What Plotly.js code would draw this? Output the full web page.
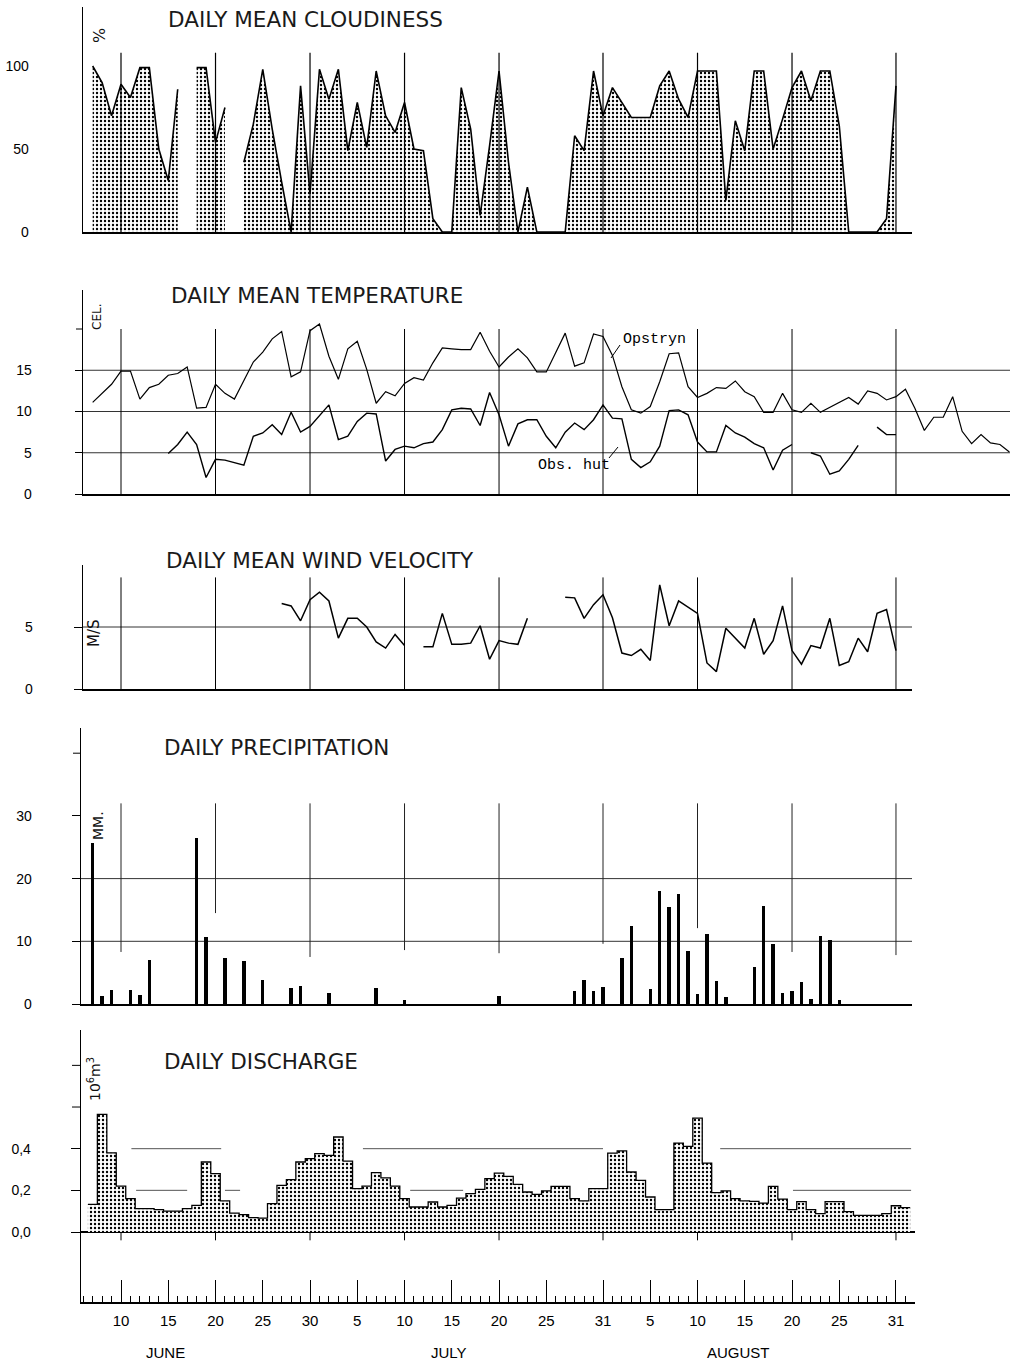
<!DOCTYPE html>
<html><head><meta charset="utf-8">
<script src="https://cdn.plot.ly/plotly-3.0.1.min.js"></script>
<style>html,body{margin:0;padding:0;background:#fff}#chart{width:1014px;height:1364px}</style>
</head><body><div id="chart"></div>
<script>
// ---------------- DATA ----------------
// day numbers: 1 = 1 June, 31 = 1 July, 62 = 1 August (92 = 31 August)
const cloudStart = 7;
const cloudiness = [100, 90, 70, 89, 81, 99, 99, 50, 31, 86,
  null, 99, 99, 54, 75, null,
  42, 65, 98, 62, 30, 0, 88, 23, 98, 80,
  98, 49, 78, 51, 97, 70, 60, 78, 50, 49,
  8, 0, 0, 87, 62, 10, 52, 97, 42, 0,
  27, 0, 0, 0, 0, 58, 49, 97, 70, 87,
  78, 69, 69, 69, 88, 97, 80, 69, 97, 97,
  97, 19, 67, 49, 97, 97, 50, 68, 87, 97,
  79, 97, 97, 64, 0, 0, 0, 0, 8, 88];

const opstrynStart = 7;
const tempOpstryn = [11.1, 12.2, 13.3, 14.9, 14.9, 11.5, 12.9, 13.3, 14.4, 14.6,
  15.4, 10.4, 10.5, 13.3, 12.2, 11.5, 13.8, 16.0, 17.2, 18.8,
  19.7, 14.2, 14.8, 19.8, 20.6, 16.7, 13.9, 17.6, 18.5, 15.1,
  11.0, 12.4, 11.9, 13.4, 14.1, 13.8, 15.9, 17.7, 17.6, 17.5,
  17.5, 19.6, 17.3, 15.4, 16.6, 17.6, 16.5, 14.8, 14.8, 17.2,
  19.5, 15.5, 15.9, 19.4, 19.1, 16.8, 13.0, 10.2, 9.8, 10.6,
  13.6, 17.0, 17.1, 13.0, 11.7, 12.2, 12.9, 12.8, 13.7, 12.4,
  11.8, 9.9, 9.9, 12.2, 10.2, 9.9, 11.0, 9.9, 10.5, 11.0,
  11.7, 10.9, 12.5, 12.2, 11.4, 11.8, 12.7, 10.4, 7.7, 9.3,
  9.3, 11.8, 7.6, 6.1, 7.2, 6.2, 6.0, 5.1];

const obsHutStart = 15;
const tempObsHut = [4.9, 6.0, 7.5, 6.0, 2.0, 4.2, 4.1, 3.8, 3.5, 7.0,
  7.4, 8.4, 7.2, 9.9, 7.5, 8.2, 9.5, 10.8, 6.6, 7.0,
  8.8, 9.8, 9.7, 4.0, 5.4, 5.8, 5.6, 6.1, 6.3, 7.8,
  10.2, 10.4, 10.3, 8.3, 12.3, 9.6, 5.8, 8.5, 9.0, 9.0,
  7.0, 5.6, 7.5, 8.6, 7.8, 9.0, 10.8, 9.2, 9.1, 4.2,
  3.2, 3.9, 5.8, 10.1, 10.2, 9.6, 6.3, 5.1, 5.1, 8.3,
  7.4, 6.9, 6.1, 5.6, 2.9, 5.3, 6.0, null, 5.0, 4.6,
  2.4, 2.8, 4.2, 5.9, null, 8.1, 7.2, 7.2];

const windStart = 27;
const windVelocity = [6.9, 6.7, 5.5, 7.2, 7.8, 7.1, 4.1, 5.7, 5.7, 5.0,
  3.8, 3.3, 4.4, 3.5, null, 3.4, 3.4, 6.1, 3.6, 3.6,
  3.7, 5.1, 2.4, 3.9, 3.7, 3.6, 5.7, null, null, null,
  7.4, 7.35, 5.7, 6.8, 7.6, 5.75, 2.9, 2.7, 3.2, 2.3,
  8.4, 5.1, 7.1, 6.6, 6.1, 2.1, 1.4, 4.9, 4.1, 3.3,
  5.7, 2.8, 3.9, 6.7, 3.1, 2.0, 3.5, 3.3, 5.7, 1.9,
  2.2, 4.1, 3.0, 6.1, 6.4, 3.1];

const precipDays = [7, 8, 9, 11, 12, 13, 18, 19, 21, 23, 25, 28, 29, 32, 37, 40, 50,
  58, 59, 60, 61, 63, 64, 66, 67, 68, 69, 70, 71, 72, 73, 74,
  77, 78, 79, 80, 81, 82, 83, 84, 85, 86];
const precipMM = [25.7, 1.3, 2.3, 2.2, 1.4, 7.0, 26.4, 10.7, 7.4, 6.9, 3.9, 2.5, 2.9, 1.7, 2.5, 0.7, 1.2,
  2.1, 3.9, 2.1, 2.7, 7.4, 12.5, 2.4, 18.1, 15.5, 17.5, 8.4, 1.6, 11.2, 3.6, 1.1,
  5.9, 15.6, 9.6, 1.8, 2.1, 3.5, 0.8, 10.9, 10.2, 0.7];

const dischargeStart = 7;
const discharge = [0.133, 0.565, 0.38, 0.22, 0.16, 0.112, 0.112, 0.107, 0.10, 0.10,
  0.112, 0.128, 0.336, 0.28, 0.149, 0.091, 0.083, 0.069, 0.067, 0.136,
  0.224, 0.251, 0.336, 0.352, 0.376, 0.368, 0.456, 0.34, 0.208, 0.22,
  0.285, 0.26, 0.22, 0.16, 0.12, 0.12, 0.144, 0.12, 0.128, 0.163,
  0.184, 0.205, 0.256, 0.283, 0.267, 0.229, 0.192, 0.181, 0.197, 0.219,
  0.219, 0.16, 0.149, 0.208, 0.208, 0.379, 0.389, 0.288, 0.248, 0.168,
  0.107, 0.107, 0.427, 0.411, 0.547, 0.331, 0.189, 0.197, 0.16, 0.149,
  0.147, 0.139, 0.219, 0.158, 0.107, 0.146, 0.107, 0.088, 0.146, 0.146,
  0.098, 0.08, 0.08, 0.08, 0.088, 0.126, 0.117];

const gridDays = [10, 20, 30, 40, 50, 61, 71, 81, 92];
const axisTickDays = [10, 15, 20, 25, 30, 35, 40, 45, 50, 55, 61, 66, 71, 76, 81, 86, 92];
const axisTickLabels = ['10', '15', '20', '25', '30', '5', '10', '15', '20', '25', '31', '5', '10', '15', '20', '25', '31'];
const monthNames = ['JUNE', 'JULY', 'AUGUST'];
const panelTitles = ['DAILY MEAN CLOUDINESS', 'DAILY MEAN TEMPERATURE', 'DAILY MEAN WIND VELOCITY', 'DAILY PRECIPITATION', 'DAILY DISCHARGE'];
const unitLabels = ['%', 'CEL.', 'M/S', 'MM.', '10<sup>6</sup>m<sup>3</sup>'];
const seriesNames = ['Opstryn', 'Obs. hut'];

// ---------------- LAYOUT HELPERS ----------------
const W = 1014, H = 1364, PXD = 9.451;
const dayAt = px => 10 + (px - 121) / PXD;
const px2x = px => px / W;
const py2y = py => 1 - py / H;
const xDom = (a, b) => [px2x(a), px2x(b)];
const yDom = (top, bottom) => [py2y(bottom), py2y(top)];
const yRng = (top, bottom, zeroPx, ppu) => [(zeroPx - bottom) / ppu, (zeroPx - top) / ppu];

function segments(start, vals) {
  const segs = []; let cur = null;
  vals.forEach((v, i) => {
    if (v === null) { cur = null; return; }
    if (!cur) { cur = {x: [], y: []}; segs.push(cur); }
    cur.x.push(start + i); cur.y.push(v);
  });
  return segs;
}
const dayList = (start, n) => Array.from({length: n}, (_, i) => start + i);

const dots = {shape: '.', fgcolor: '#000', bgcolor: '#fff', size: 4, solidity: 0.27};
const traces = [];

// cloudiness: one filled trace per continuous run
segments(cloudStart, cloudiness).forEach(s => traces.push({
  type: 'scatter', mode: 'lines', x: s.x, y: s.y, xaxis: 'x', yaxis: 'y',
  line: {color: '#000', width: 1.6}, fill: 'tozeroy', fillcolor: '#fff', fillpattern: dots, hoverinfo: 'skip'
}));

// temperatures
traces.push({type: 'scatter', mode: 'lines', name: seriesNames[0], x: dayList(opstrynStart, tempOpstryn.length), y: tempOpstryn,
  xaxis: 'x2', yaxis: 'y2', line: {color: '#000', width: 1.2}, connectgaps: false});
traces.push({type: 'scatter', mode: 'lines', name: seriesNames[1], x: dayList(obsHutStart, tempObsHut.length), y: tempObsHut,
  xaxis: 'x2', yaxis: 'y2', line: {color: '#000', width: 1.4}, connectgaps: false});

// wind
traces.push({type: 'scatter', mode: 'lines', x: dayList(windStart, windVelocity.length), y: windVelocity,
  xaxis: 'x3', yaxis: 'y3', line: {color: '#000', width: 1.5}, connectgaps: false});

// precipitation
traces.push({type: 'bar', x: precipDays, y: precipMM, width: 0.36, xaxis: 'x4', yaxis: 'y4',
  marker: {color: '#000', line: {width: 0}}});

// discharge as daily steps
const qx = discharge.map((v, i) => dischargeStart + i - 0.5);
qx.push(dischargeStart + discharge.length - 0.5);
const qy = discharge.slice(); qy.push(discharge[discharge.length - 1]);
traces.push({type: 'scatter', mode: 'lines', x: qx, y: qy, xaxis: 'x5', yaxis: 'y5',
  line: {color: '#000', width: 1.3, shape: 'hv'}, fill: 'tozeroy', fillcolor: '#fff', fillpattern: dots});

// ---------------- AXES ----------------
const tickFont = {family: 'Liberation Sans, Arial, sans-serif', size: 14, color: '#000'};
function xAx(a, b, anchor) {
  return {domain: xDom(a, b), range: [dayAt(a), dayAt(b)], anchor: anchor, showline: true, linecolor: '#000', linewidth: 1.5,
    showgrid: false, zeroline: false, ticks: '', showticklabels: false, fixedrange: true};
}
function yAx(top, bottom, zeroPx, ppu, anchor, vals, len, standoff) {
  return {domain: yDom(top, bottom), range: yRng(top, bottom, zeroPx, ppu), anchor: anchor, showline: true, linecolor: '#000', linewidth: 1.3,
    showgrid: false, zeroline: false, tickmode: 'array', tickvals: vals,
    ticks: len ? 'outside' : '', ticklen: len, tickwidth: 1, tickcolor: '#000', tickfont: tickFont, ticklabelstandoff: standoff, fixedrange: true};
}

const layout = {
  width: W, height: H, margin: {l: 0, r: 0, t: 0, b: 0}, paper_bgcolor: '#fff', plot_bgcolor: 'rgba(0,0,0,0)',
  showlegend: false, hovermode: false, bargap: 0,
  xaxis: xAx(83, 912, 'y'),
  yaxis: yAx(7, 232, 232, 1.66, 'x', [0, 50, 100], 0, 50),
  xaxis2: xAx(83, 1010, 'y2'),
  yaxis2: yAx(290, 494, 494, 8.25, 'x2', [0, 5, 10, 15], 7, 40),
  xaxis3: xAx(83, 912, 'y3'),
  yaxis3: yAx(565, 689, 689, 12.4, 'x3', [0, 5], 8, 38),
  xaxis4: xAx(81, 912, 'y4'),
  yaxis4: yAx(728, 1004, 1004, 6.27, 'x4', [0, 10, 20, 30], 8, 37),
  xaxis5: Object.assign(xAx(81, 915, 'y5'), {
    showticklabels: true, tickmode: 'array', tickvals: axisTickDays, ticktext: axisTickLabels,
    ticks: 'inside', ticklen: 22, tickwidth: 1, tickcolor: '#000', tickfont: {family: 'Liberation Sans, Arial, sans-serif', size: 15, color: '#000'},
    ticklabelstandoff: 4,
    minor: {tickmode: 'array', tickvals: dayList(6, 88), ticks: 'inside', ticklen: 6, tickwidth: 1, tickcolor: '#000', showgrid: false}
  }),
  yaxis5: Object.assign(yAx(1030, 1302, 1232, 208.3, 'x5', [0, 0.2, 0.4], 9, 37), {
    ticktext: ['0,0', '0,2', '0,4'], zeroline: true, zerolinecolor: '#000', zerolinewidth: 1.5
  }),
  shapes: [], annotations: []
};

// ---------------- GRID LINES & EXTRA TICKS ----------------
const sh = layout.shapes;
const vline = (xr, yr, x, y0, y1, opts) => sh.push(Object.assign({type: 'line', xref: xr, yref: yr, x0: x, x1: x, y0: y0, y1: y1,
  line: {color: '#000', width: 1}, layer: 'below'}, opts || {}));
const hline = (xr, yr, y, x0, x1, opts) => sh.push(Object.assign({type: 'line', xref: xr, yref: yr, x0: x0, x1: x1, y0: y, y1: y,
  line: {color: '#333', width: 1}, layer: 'below'}, opts || {}));

gridDays.forEach(d => vline('x', 'y', d, 0, 108, {layer: 'above', line: {color: '#000', width: 1.2}}));
gridDays.forEach(d => vline('x2', 'y2', d, 0, 20));
[5, 10, 15].forEach(v => hline('x2 domain', 'y2', v, 0, 1));
gridDays.forEach(d => vline('x3', 'y3', d, 0, 9));
hline('x3 domain', 'y3', 5, 0, 1);
const precipGridFrom = [8.3, 14.5, 7.5, 8.6, 8.1, 9.6, 12.1, 8.3, 7.8];
gridDays.forEach((d, i) => vline('x4', 'y4', d, precipGridFrom[i], 32, {line: {color: '#222', width: 1}}));
vline('x4', 'y4', dayAt(918), 14, 32, {line: {color: '#aaa', width: 1}});
[10, 20].forEach(v => hline('x4 domain', 'y4', v, 0, 1));
gridDays.forEach(d => vline('x5', 'y5', d, 0, -0.04, {layer: 'above'}));
[[11.1, 20.6], [35.6, 61.0], [73.4, 93.6]].forEach(s => hline('x5', 'y5', 0.4, s[0], s[1], {line: {color: '#555', width: 1}}));
[[11.6, 17.0], [21.0, 22.6], [40.6, 46.2], [81.1, 93.6]].forEach(s => hline('x5', 'y5', 0.2, s[0], s[1], {line: {color: '#555', width: 1}}));
// unlabelled upper ticks on the value axes
const ytick = (yr, v, a, b) => sh.push({type: 'line', xref: 'paper', yref: yr, x0: px2x(a), x1: px2x(b), y0: v, y1: v, line: {color: '#000', width: 1}});
ytick('y2', 20, 76, 83);
ytick('y4', 40, 73, 81);
ytick('y5', 0.6, 72, 81);
ytick('y5', 0.8, 72, 81);

// leader lines for the temperature series labels
sh.push({type: 'line', xref: 'paper', yref: 'paper', x0: px2x(611), y0: py2y(358), x1: px2x(620), y1: py2y(345), line: {color: '#000', width: 1}});
sh.push({type: 'line', xref: 'paper', yref: 'paper', x0: px2x(609), y0: py2y(458), x1: px2x(618), y1: py2y(447), line: {color: '#000', width: 1}});

// ---------------- TEXT ----------------
const an = layout.annotations;
const titleFont = {family: 'DejaVu Sans, sans-serif', size: 21.5, color: '#1a1a1a'};
const titlePos = [[166, 20], [169, 295], [164, 560], [162, 748], [162, 1061]];
panelTitles.forEach((t, i) => an.push({text: t, xref: 'paper', yref: 'paper', x: px2x(titlePos[i][0]), y: py2y(titlePos[i][1]),
  xanchor: 'left', yanchor: 'middle', showarrow: false, font: titleFont}));
const unitPos = [[100, 36, 16], [97, 317, 12], [94, 633, 15], [98, 826, 14], [94, 1079, 14]];
unitLabels.forEach((t, i) => an.push({text: t, xref: 'paper', yref: 'paper', x: px2x(unitPos[i][0]), y: py2y(unitPos[i][1]),
  xanchor: 'center', yanchor: 'middle', textangle: -90, showarrow: false,
  font: {family: 'DejaVu Sans, sans-serif', size: unitPos[i][2], color: '#111'}}));
const serFont = {family: 'Liberation Mono, Courier New, monospace', size: 15, color: '#000'};
an.push({text: seriesNames[0], xref: 'paper', yref: 'paper', x: px2x(621), y: py2y(339), xanchor: 'left', yanchor: 'middle', showarrow: false, font: serFont});
an.push({text: seriesNames[1], xref: 'paper', yref: 'paper', x: px2x(536), y: py2y(466), xanchor: 'left', yanchor: 'middle', showarrow: false, font: serFont});
const monthPx = [165, 449, 738];
monthNames.forEach((m, i) => an.push({text: m, xref: 'paper', yref: 'paper', x: px2x(monthPx[i]), y: py2y(1352),
  xanchor: 'center', yanchor: 'middle', showarrow: false, font: {family: 'Liberation Sans, Arial, sans-serif', size: 15, color: '#000'}}));

Plotly.newPlot('chart', traces, layout, {staticPlot: true, displayModeBar: false});
</script>
</body></html>
